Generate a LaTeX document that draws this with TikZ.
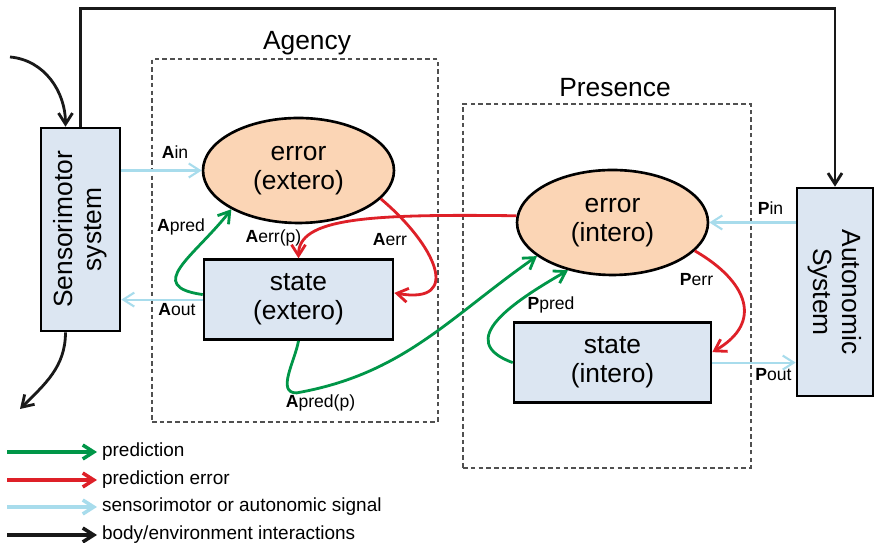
\documentclass[tikz,border=0pt]{standalone}
\usepackage{fontspec}
\setmainfont{Liberation Sans}
\usetikzlibrary{arrows.meta,positioning,calc,shapes.geometric}
\definecolor{predgreen}{RGB}{0,150,72}
\definecolor{errred}{RGB}{222,32,40}
\definecolor{sigblue}{RGB}{168,220,236}
\definecolor{boxblue}{RGB}{220,230,242}
\definecolor{errpeach}{RGB}{251,213,181}
\definecolor{groupgray}{RGB}{80,80,80}
\newcommand{\mainsize}{\fontsize{15}{16.5}\selectfont}
\newcommand{\descsize}{\fontsize{10}{12}\selectfont}
\newcommand{\legsize}{\fontsize{10.8}{13}\selectfont}
\tikzset{
  every picture/.style={line width=0.8pt},
  errnode/.style={draw, ellipse, fill=errpeach, line width=1.5pt, inner sep=0pt, align=center, font=\mainsize},
  statenode/.style={draw, rectangle, fill=boxblue, line width=1.5pt, inner sep=0pt, align=center, font=\mainsize},
  group/.style={draw=groupgray, dash pattern=on 2.6pt off 1.8pt, line width=0.8pt},
  grouplabel/.style={font=\mainsize},
  desc/.style={font=\descsize, inner sep=0pt},
  legtext/.style={font=\legsize, anchor=west, inner xsep=2.5pt, inner ysep=0pt},
  tip/.style={-{Straight Barb[length=2.2mm,width=2.8mm]}},
  pred/.style={tip, draw=predgreen, line width=1.6pt},
  perr/.style={tip, draw=errred, line width=1.6pt},
  signal/.style={tip, draw=sigblue, line width=1.2pt},
  body/.style={tip, draw=black!90, line width=1.6pt},
}

\begin{document}
\begin{tikzpicture}[x=0.02cm, y=0.02cm]
  \useasboundingbox (0,0) rectangle (874,543);

  \node[group, minimum width=5.72cm, minimum height=7.26cm] (agency) at (295,302.5) {};
  \node[group, minimum width=5.76cm, minimum height=7.28cm] (presence) at (607,257) {};
  \node[grouplabel] (agencylbl) at (307,500) {Agency};
  \node[grouplabel] (presencelbl) at (615,455) {Presence};

  \node[statenode, rotate=90, minimum width=4.06cm, minimum height=1.58cm] (sens) at (80.5,313.5) {Sensorimotor\\system};
  \node[statenode, rotate=-90, minimum width=4.16cm, minimum height=1.52cm] (auto) at (835,251) {Autonomic\\System};

  \node[errnode, minimum width=3.82cm, minimum height=2.1cm] (errA) at (298.5,372.5) {error\\(extero)};
  \node[statenode, below=0.68cm of errA, minimum width=3.78cm, minimum height=1.6cm] (stA) {state\\(extero)};
  \node[errnode, minimum width=3.82cm, minimum height=2.1cm] (errP) at (612.5,320.5) {error\\(intero)};
  \node[statenode, below=0.9cm of errP, minimum width=3.94cm, minimum height=1.6cm] (stP) {state\\(intero)};

  % body / environment
  \coordinate (envin) at (10,486);
  \coordinate (envout) at (20,134);
  \draw[body] (sens.east) -- ++(0,118) -| (auto.west);
  \draw[body] (envin) to[out=-5,in=90] ($(sens.east)+(-15,0)$);
  \draw[body] ($(sens.west)+(-15,0)$) to[out=-90,in=45] (envout);

  % signals
  \draw[signal] (errA.west -| sens.south) -- (errA.west);
  \draw[signal] (stA.west) -- (stA.west -| sens.south);
  \draw[signal] (errP.east -| auto.south) -- (errP.east);
  \draw[signal] (stP.east) -- (stP.east -| auto.south);

  % predictions
  \draw[pred] (stA.177) to[out=172,in=232,looseness=1.7] (errA.210);
  \draw[pred] (stA.south) to[out=-100,in=180] ++(-2,-52) to[out=10,in=215] (errP.204);
  \draw[pred] (stP.west) to[out=160,in=210,looseness=1.5] (errP.227);

  % prediction errors
  \draw[perr] (errA.341) to[out=-40,in=-10,looseness=1.9] (stA.4);
  \draw[perr] (errP.176) .. controls +(-150,2) and +(0,40) .. (stA.north);
  \draw[perr] (errP.341) to[out=-30,in=30,looseness=1.5] (stP.6);

  \node[desc] (lAin) at (175,391) {\textbf{A}in};
  \node[desc] (lAout) at (177,233) {\textbf{A}out};
  \node[desc] (lApred) at (181,316) {\textbf{A}pred};
  \node[desc] (lAerrp) at (273.5,305) {\textbf{A}err(p)};
  \node[desc] (lAerr) at (390,303) {\textbf{A}err};
  \node[desc] (lApredp) at (320.5,140) {\textbf{A}pred(p)};
  \node[desc] (lPin) at (770.5,335) {\textbf{P}in};
  \node[desc] (lPout) at (773.5,168) {\textbf{P}out};
  \node[desc] (lPerr) at (696.5,263) {\textbf{P}err};
  \node[desc] (lPpred) at (551,238) {\textbf{P}pred};

  % legend
  \node[legtext] (lgpred) at (97,91) {prediction};
  \node[legtext] (lgerr) at (97,63) {prediction error};
  \node[legtext] (lgsig) at (97,36) {sensorimotor or autonomic signal};
  \node[legtext] (lgbody) at (97,8) {body/environment interactions};
  \coordinate (lgpreds) at (7,91);
  \coordinate (lgerrs) at (7,63);
  \coordinate (lgsigs) at (7,36);
  \coordinate (lgbodys) at (7,8);
  \draw[pred, line width=2pt] (lgpreds) -- (lgpred.west);
  \draw[perr, line width=2pt] (lgerrs) -- (lgerr.west);
  \draw[signal, line width=2pt] (lgsigs) -- (lgsig.west);
  \draw[body, line width=2pt] (lgbodys) -- (lgbody.west);
\end{tikzpicture}
\end{document}
